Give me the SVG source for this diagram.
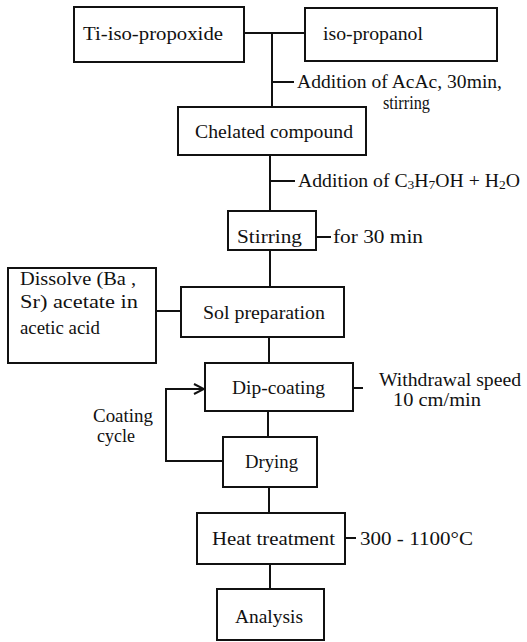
<svg xmlns="http://www.w3.org/2000/svg" width="527" height="642" viewBox="0 0 527 642">
<defs>
<style>
.box{fill:#fff;stroke:#111;stroke-width:2}
.ln{fill:none;stroke:#111;stroke-width:2}
.t{font-family:'Liberation Serif','DejaVu Serif',serif;font-size:19px;fill:#111}
</style>
<marker id="arr" viewBox="0 0 12 12" refX="11" refY="6" markerWidth="12" markerHeight="12" markerUnits="userSpaceOnUse" orient="auto">
<path d="M1,1 L11,6 L1,11" fill="none" stroke="#111" stroke-width="2"/>
</marker>
</defs>
<rect width="527" height="642" fill="#fff"/>
<g id="connectors">
<path class="ln" d="M244,33 H305"/>
<path class="ln" d="M272,33 V107"/>
<path class="ln" d="M272,82 H294"/>
<path class="ln" d="M270,155 V211"/>
<path class="ln" d="M270,181 H295"/>
<path class="ln" d="M316,237 H331"/>
<path class="ln" d="M270,250 V287"/>
<path class="ln" d="M156,311 H181"/>
<path class="ln" d="M269,337 V363"/>
<path class="ln" d="M353,388 H363"/>
<path class="ln" d="M268,411 V437"/>
<path class="ln" d="M223,461 H166 V389 H204" marker-end="url(#arr)"/>
<path class="ln" d="M269,487 V513"/>
<path class="ln" d="M345,538 H356"/>
<path class="ln" d="M270,564 V589"/>
</g>
<g id="ti">
<rect class="box" x="74" y="7" width="170" height="55"/>
<text class="t" x="83" y="40" textLength="140" lengthAdjust="spacingAndGlyphs">Ti-iso-propoxide</text>
</g>
<g id="iso">
<rect class="box" x="305" y="8" width="192" height="53"/>
<text class="t" x="323" y="40" textLength="100" lengthAdjust="spacingAndGlyphs">iso-propanol</text>
</g>
<g id="label-acac">
<text class="t" x="297" y="88" textLength="205" lengthAdjust="spacingAndGlyphs">Addition of AcAc, 30min,</text>
<text class="t" x="383" y="109" textLength="47" lengthAdjust="spacingAndGlyphs">stirring</text>
</g>
<g id="chelated">
<rect class="box" x="178" y="107" width="188" height="48"/>
<text class="t" x="195" y="138" textLength="158" lengthAdjust="spacingAndGlyphs">Chelated compound</text>
</g>
<g id="label-add">
<text class="t" x="298" y="187" textLength="222" lengthAdjust="spacingAndGlyphs">Addition of C<tspan font-size="13" dy="2">3</tspan><tspan dy="-2">H</tspan><tspan font-size="13" dy="2">7</tspan><tspan dy="-2">OH + H</tspan><tspan font-size="13" dy="2">2</tspan><tspan dy="-2">O</tspan></text>
</g>
<g id="stirring">
<rect class="box" x="228" y="211" width="88" height="39"/>
<text class="t" x="237" y="243" textLength="65" lengthAdjust="spacingAndGlyphs">Stirring</text>
</g>
<g id="label-30">
<text class="t" x="333" y="243" textLength="90" lengthAdjust="spacingAndGlyphs">for 30 min</text>
</g>
<g id="dissolve">
<rect class="box" x="8" y="268" width="148" height="95"/>
<text class="t" x="20" y="285" textLength="116" lengthAdjust="spacingAndGlyphs">Dissolve (Ba ,</text>
<text class="t" x="20" y="308" textLength="118" lengthAdjust="spacingAndGlyphs">Sr) acetate in</text>
<text class="t" x="20" y="334" textLength="80" lengthAdjust="spacingAndGlyphs">acetic acid</text>
</g>
<g id="sol">
<rect class="box" x="181" y="287" width="163" height="50"/>
<text class="t" x="203" y="319" textLength="122" lengthAdjust="spacingAndGlyphs">Sol preparation</text>
</g>
<g id="dip">
<rect class="box" x="205" y="363" width="148" height="48"/>
<text class="t" x="232" y="394" textLength="93" lengthAdjust="spacingAndGlyphs">Dip-coating</text>
</g>
<g id="label-withdrawal">
<text class="t" x="379" y="386" textLength="142" lengthAdjust="spacingAndGlyphs">Withdrawal speed</text>
<text class="t" x="393" y="406" textLength="88" lengthAdjust="spacingAndGlyphs">10 cm/min</text>
</g>
<g id="label-cycle">
<text class="t" x="93" y="422" textLength="60" lengthAdjust="spacingAndGlyphs">Coating</text>
<text class="t" x="97" y="442" textLength="38" lengthAdjust="spacingAndGlyphs">cycle</text>
</g>
<g id="drying">
<rect class="box" x="223" y="437" width="94" height="50"/>
<text class="t" x="245" y="468" textLength="53" lengthAdjust="spacingAndGlyphs">Drying</text>
</g>
<g id="heat">
<rect class="box" x="197" y="513" width="148" height="51"/>
<text class="t" x="212" y="545" textLength="123" lengthAdjust="spacingAndGlyphs">Heat treatment</text>
</g>
<g id="label-temp">
<text class="t" x="360" y="545" textLength="113" lengthAdjust="spacingAndGlyphs">300 - 1100°C</text>
</g>
<g id="analysis">
<rect class="box" x="217" y="589" width="107" height="51"/>
<text class="t" x="235" y="623" textLength="68" lengthAdjust="spacingAndGlyphs">Analysis</text>
</g>
</svg>
